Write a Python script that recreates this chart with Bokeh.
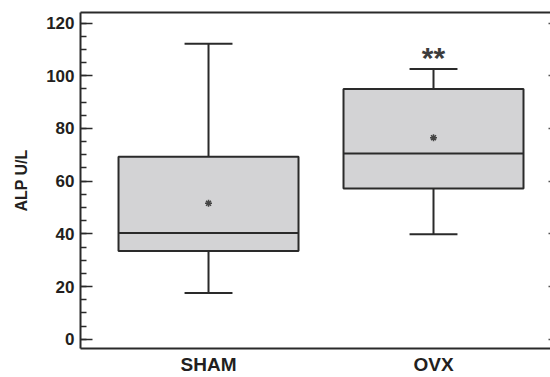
from bokeh.plotting import figure
from bokeh.models import Range1d, LinearAxis, FixedTicker, SingleIntervalTicker, ColumnDataSource
from bokeh.core.properties import value
from bokeh.embed import file_html
from bokeh.resources import INLINE

# ---- data ----
groups = ["SHAM", "OVX"]
positions = [1, 2]
lower_whisker = [17.6, 39.9]
q1 = [33.5, 57.2]
median = [40.3, 70.5]
q3 = [69.3, 95.0]
upper_whisker = [112.1, 102.6]
means = [51.6, 76.5]
sig_text = ["**"]
sig_pos = [2]
sig_y = [106.8]
y_ticks = [0, 20, 40, 60, 80, 100, 120]
y_label = "ALP U/L"

FONT = "Liberation Sans"
DARK = "#2a2a2a"
TXT = "#231f20"
BOX_W = 0.8
CAP_W = 0.213

p = figure(width=550, height=377, output_backend="svg", toolbar_location=None,
           x_range=Range1d(0.431, 2.52), y_range=Range1d(-3.5, 124.0),
           min_border_left=80, min_border_right=0, min_border_top=12, min_border_bottom=27,
           x_axis_type=None, y_axis_type=None)
p.outline_line_color = None
p.xgrid.visible = False
p.ygrid.visible = False
p.background_fill_color = "white"
p.border_fill_color = "white"

src = ColumnDataSource(dict(x=positions, lw=lower_whisker, q1=q1, med=median, q3=q3,
                            uw=upper_whisker, mean=means,
                            xl=[v - BOX_W / 2 for v in positions], xr=[v + BOX_W / 2 for v in positions],
                            cl=[v - CAP_W / 2 for v in positions], cr=[v + CAP_W / 2 for v in positions]))

# whiskers
p.segment(x0="x", y0="q3", x1="x", y1="uw", source=src, line_color=DARK, line_width=2)
p.segment(x0="x", y0="q1", x1="x", y1="lw", source=src, line_color=DARK, line_width=2)
p.segment(x0="cl", y0="uw", x1="cr", y1="uw", source=src, line_color=DARK, line_width=2)
p.segment(x0="cl", y0="lw", x1="cr", y1="lw", source=src, line_color=DARK, line_width=2)
# boxes
p.vbar(x="x", width=BOX_W, bottom="q1", top="q3", source=src,
       fill_color="#d3d3d5", line_color=DARK, line_width=2)
# medians
p.segment(x0="xl", y0="med", x1="xr", y1="med", source=src, line_color=DARK, line_width=2)
# means
p.scatter(x="x", y="mean", source=src, marker="asterisk", size=7, line_color="#444444", line_width=1.5)
# significance
p.text(x=sig_pos, y=sig_y, text=sig_text, text_font=value(FONT), text_font_style="bold",
       text_font_size="30px", text_color="#3c3c3c", text_align="center", text_baseline="alphabetic")

# left axis
yl = LinearAxis(ticker=SingleIntervalTicker(interval=20, num_minor_ticks=4))
yl.axis_label = y_label
yl.axis_label_text_font = FONT
yl.axis_label_text_font_style = "bold"
yl.axis_label_text_font_size = "16px"
yl.axis_label_text_color = TXT
yl.axis_label_standoff = 13
yl.major_label_text_font = FONT
yl.major_label_text_font_style = "bold"
yl.major_label_text_font_size = "17px"
yl.major_label_text_color = TXT
yl.major_label_standoff = 6
yl.major_tick_in = 12
yl.major_tick_out = 0
yl.minor_tick_in = 6
yl.minor_tick_out = 0
yl.axis_line_width = 2
yl.axis_line_color = DARK
yl.major_tick_line_color = DARK
yl.minor_tick_line_color = DARK
yl.major_tick_line_width = 1.5
yl.minor_tick_line_width = 1.5
p.add_layout(yl, "left")

# right axis (tick stubs only)
yr = LinearAxis(ticker=FixedTicker(ticks=y_ticks))
yr.major_label_overrides = {t: "" for t in y_ticks}
yr.major_label_standoff = 0
yr.major_tick_in = 2
yr.major_tick_out = 0
yr.minor_tick_in = 0
yr.minor_tick_out = 0
yr.axis_line_color = None
yr.major_tick_line_color = "#555555"
yr.major_tick_line_width = 1.5
p.add_layout(yr, "right")

# top border line
xt = LinearAxis(ticker=FixedTicker(ticks=[]))
xt.axis_line_width = 2
xt.axis_line_color = DARK
xt.major_tick_in = 0
xt.major_tick_out = 0
xt.minor_tick_in = 0
xt.minor_tick_out = 0
xt.major_label_standoff = 0
p.add_layout(xt, "above")

# bottom axis
xb = LinearAxis(ticker=FixedTicker(ticks=positions))
xb.major_label_overrides = {pos: g for pos, g in zip(positions, groups)}
xb.major_label_text_font = FONT
xb.major_label_text_font_style = "bold"
xb.major_label_text_font_size = "19px"
xb.major_label_text_color = TXT
xb.major_label_standoff = 5
xb.major_tick_in = 0
xb.major_tick_out = 0
xb.minor_tick_in = 0
xb.minor_tick_out = 0
xb.axis_line_width = 2
xb.axis_line_color = DARK
p.add_layout(xb, "below")

open("out.html", "w").write(file_html(p, INLINE))
